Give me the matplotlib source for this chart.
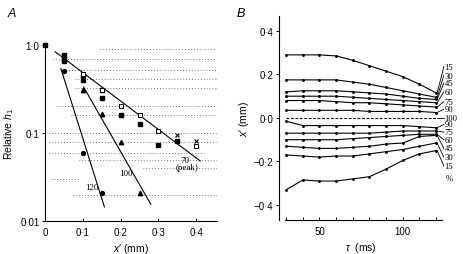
"""
Two-panel figure: (A) decay of relative h1 with distance x' on a log scale,
(B) iso-percentage contours of x' against tau.
"""

import matplotlib
matplotlib.use("Agg")
import matplotlib.pyplot as plt
from matplotlib.ticker import NullLocator

plt.rcParams["font.family"] = ["Liberation Sans", "DejaVu Sans"]
plt.rcParams["mathtext.fontset"] = "custom"
plt.rcParams["mathtext.rm"] = "Liberation Sans"
plt.rcParams["mathtext.it"] = "Liberation Sans:italic"

# ---------------- panel A data ----------------
sq_filled_x = [0.0, 0.05, 0.05, 0.05, 0.1, 0.1, 0.15, 0.15, 0.2, 0.25, 0.3, 0.35]
sq_filled_y = [1.0, 0.76, 0.70, 0.65, 0.44, 0.40, 0.305, 0.25, 0.16, 0.125, 0.074, 0.082]
sq_open_x = [0.1, 0.15, 0.2, 0.25, 0.3, 0.4]
sq_open_y = [0.47, 0.31, 0.20, 0.16, 0.105, 0.071]
cross_x = [0.35, 0.4]
cross_y = [0.096, 0.082]
tri_x = [0.1, 0.15, 0.2, 0.25]
tri_y = [0.305, 0.165, 0.08, 0.021]
circ_x = [0.05, 0.1, 0.15]
circ_y = [0.51, 0.06, 0.021]

fit_70_x = [0.027, 0.411]
fit_70_y = [0.835, 0.048]
fit_100_x = [0.102, 0.28]
fit_100_y = [0.333, 0.0155]
fit_120_x = [0.042, 0.157]
fit_120_y = [0.54, 0.0145]

# dotted reference lines: (y, x start, x end)
ref_y = [0.91, 0.70, 0.515, 0.41, 0.32, 0.20, 0.16, 0.10, 0.08, 0.059, 0.05, 0.04, 0.03, 0.02]
ref_x0 = [0.145, 0.02, 0.04, 0.08, 0.08, 0.03, 0.07, 0.01, 0.01, 0.01, 0.09, 0.26, 0.015, 0.075]
ref_x1 = [0.455, 0.45, 0.455, 0.455, 0.455, 0.455, 0.455, 0.455, 0.455, 0.42, 0.455, 0.455, 0.09, 0.455]

a_xticks = [0, 0.1, 0.2, 0.3, 0.4]
a_xlabels = ["0", "0·1", "0·2", "0·3", "0·4"]
a_yticks = [0.01, 0.1, 1.0]
a_ylabels = ["0·01", "0·1", "1·0"]

# ---------------- panel B data ----------------
tau = [30, 40, 50, 60, 70, 80, 90, 100, 110, 120]
pos15 = [0.29, 0.29, 0.29, 0.285, 0.265, 0.24, 0.215, 0.19, 0.155, 0.115]
pos30 = [0.175, 0.175, 0.175, 0.175, 0.165, 0.155, 0.14, 0.125, 0.11, 0.095]
pos45 = [0.12, 0.125, 0.125, 0.125, 0.12, 0.115, 0.11, 0.10, 0.09, 0.085]
pos60 = [0.10, 0.10, 0.10, 0.10, 0.095, 0.09, 0.085, 0.08, 0.075, 0.07]
pos75 = [0.08, 0.08, 0.08, 0.075, 0.07, 0.07, 0.065, 0.06, 0.055, 0.05]
pos90 = [0.035, 0.035, 0.035, 0.035, 0.035, 0.03, 0.03, 0.03, 0.03, 0.025]
neg90 = [-0.015, -0.035, -0.035, -0.035, -0.035, -0.035, -0.035, -0.035, -0.04, -0.045]
neg75 = [-0.07, -0.07, -0.07, -0.07, -0.07, -0.07, -0.065, -0.06, -0.06, -0.06]
neg60 = [-0.10, -0.10, -0.10, -0.10, -0.095, -0.09, -0.085, -0.08, -0.075, -0.075]
neg45 = [-0.13, -0.135, -0.14, -0.14, -0.135, -0.13, -0.12, -0.115, -0.085, -0.08]
neg30 = [-0.17, -0.175, -0.18, -0.175, -0.175, -0.165, -0.155, -0.145, -0.13, -0.115]
neg15 = [-0.33, -0.285, -0.29, -0.29, -0.28, -0.27, -0.235, -0.195, -0.165, -0.15]

b_lines = [pos15, pos30, pos45, pos60, pos75, pos90, neg90, neg75, neg60, neg45, neg30, neg15]
b_names = ["15", "30", "45", "60", "75", "90", "90", "75", "60", "45", "30", "15"]
b_label_y = [0.235, 0.195, 0.16, 0.12, 0.075, 0.04, -0.03, -0.065, -0.10, -0.14, -0.18, -0.22]

b_yticks = [-0.4, -0.2, 0.0, 0.2, 0.4]
b_ylabels = ["−0·4", "−0·2", "0·0", "0·2", "0·4"]
b_xticks = [30, 40, 50, 60, 70, 80, 90, 100, 110, 120]
b_xlabels = ["", "", "50", "", "", "", "", "100", "", ""]

SERIF = ["Liberation Serif", "DejaVu Serif"]

fig = plt.figure(figsize=(4.63, 2.55), dpi=100)

# ================= panel A =================
axA = fig.add_axes([0.0972, 0.129, 0.3715, 0.691])
axA.set_yscale("log")
axA.set_xlim(0, 0.455)
axA.set_ylim(0.01, 1.0)

for y, x0, x1 in zip(ref_y, ref_x0, ref_x1):
    axA.plot([x0, x1], [y, y], color="#444444", linestyle=(0, (1, 2.5)), linewidth=0.6)

axA.plot(fit_70_x, fit_70_y, color="black", linewidth=0.8)
axA.plot(fit_100_x, fit_100_y, color="black", linewidth=0.8)
axA.plot(fit_120_x, fit_120_y, color="black", linewidth=0.8)

axA.plot(sq_filled_x, sq_filled_y, "s", color="black", markersize=3.2, clip_on=False)
axA.plot(sq_open_x, sq_open_y, "s", markerfacecolor="white", markeredgecolor="black",
         markersize=3.2, markeredgewidth=0.7)
axA.plot(cross_x, cross_y, "x", color="black", markersize=3.2, markeredgewidth=0.8)
axA.plot(tri_x, tri_y, "^", color="black", markersize=3.2)
axA.plot(circ_x, circ_y, "o", color="black", markersize=2.8)

axA.text(0.358, 0.049, "70", family=SERIF, fontsize=6.5, ha="left", va="center")
axA.text(0.345, 0.041, "(peak)", family=SERIF, fontsize=6.5, ha="left", va="center")
axA.text(0.197, 0.035, "100", family=SERIF, fontsize=6.5, ha="left", va="center")
axA.text(0.107, 0.0245, "120", family=SERIF, fontsize=6.5, ha="left", va="center")

axA.set_xticks(a_xticks)
axA.set_xticklabels(a_xlabels, fontsize=7)
axA.set_yticks(a_yticks)
axA.set_yticklabels(a_ylabels, fontsize=7)
axA.yaxis.set_minor_locator(NullLocator())
axA.tick_params(axis="x", direction="in", length=2.5, width=0.7, pad=4)
axA.tick_params(axis="y", direction="out", length=2, width=0.7, pad=2)
axA.spines["top"].set_visible(False)
axA.spines["right"].set_visible(False)
for s in ("left", "bottom"):
    axA.spines[s].set_linewidth(0.8)
axA.set_xlabel("$x$′ (mm)", fontsize=7.5, labelpad=3)
axA.set_ylabel("Relative $h_1$", fontsize=7.5, labelpad=3)

fig.text(0.017, 0.935, "A", fontsize=9, style="italic")

# ================= panel B =================
axB = fig.add_axes([0.6026, 0.1325, 0.352, 0.802])
axB.set_xlim(25.7, 123.5)
axB.set_ylim(-0.47, 0.47)

for vals in b_lines:
    axB.plot(tau, vals, color="black", linewidth=0.8, marker=".", markersize=2.2)
axB.plot([tau[0], tau[-1]], [0, 0], color="black", linewidth=0.8, linestyle=(0, (2.5, 1.5)))

for vals, name, ly in zip(b_lines, b_names, b_label_y):
    axB.plot([120.6, 124.6], [vals[-1], ly], color="black", linewidth=0.6, clip_on=False)
    axB.text(125.0, ly, name, family=SERIF, fontsize=6.2, ha="left", va="center", clip_on=False)
axB.plot([120.6, 124.6], [0, 0], color="black", linewidth=0.6, clip_on=False)
axB.text(125.0, 0.0, "100", family=SERIF, fontsize=6.2, ha="left", va="center", clip_on=False)
axB.text(125.5, -0.275, "%", family=SERIF, fontsize=6.2, ha="left", va="center", clip_on=False)

axB.set_xticks(b_xticks)
axB.set_xticklabels(b_xlabels, fontsize=7)
axB.set_yticks(b_yticks)
axB.set_yticklabels(b_ylabels, fontsize=7)
axB.tick_params(axis="x", direction="in", length=2.5, width=0.7, pad=4)
axB.tick_params(axis="y", direction="out", length=2, width=0.7, pad=2)
axB.spines["top"].set_visible(False)
axB.spines["right"].set_visible(False)
axB.spines["bottom"].set_bounds(29.5, 123.5)
for s in ("left", "bottom"):
    axB.spines[s].set_linewidth(0.8)
axB.set_xlabel(r"$\tau$  (ms)", fontsize=7.5, labelpad=3)
axB.set_ylabel("$x$′ (mm)", fontsize=7.5, labelpad=2)

fig.text(0.51, 0.935, "B", fontsize=9, style="italic")

fig.savefig("out.png", dpi=100)
plt.close(fig)
